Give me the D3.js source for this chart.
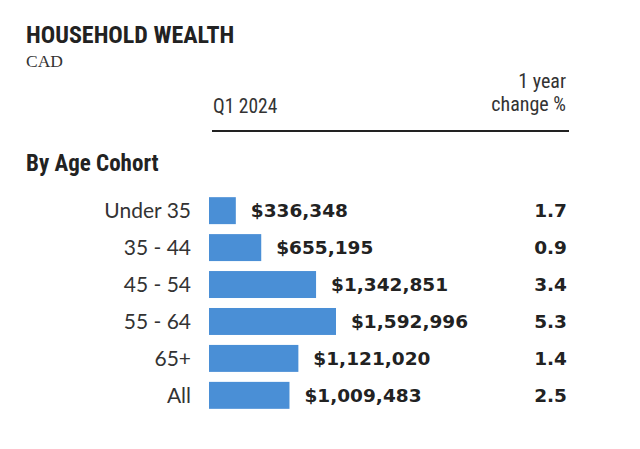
<!DOCTYPE html>
<html><head><meta charset="utf-8">
<script src="https://cdn.jsdelivr.net/npm/d3@7"></script>
<style>body{margin:0;background:#fff}</style>
</head><body>
<script>
const categories = ["Under 35","35 - 44","45 - 54","55 - 64","65+","All"];
const wealth = [336348,655195,1342851,1592996,1121020,1009483];
const change = [1.7,0.9,3.4,5.3,1.4,2.5];

const W=640,H=449;
const svg=d3.select("body").append("svg").attr("width",W).attr("height",H);
const cond="'Liberation Sans Narrow','Roboto Condensed','Arial Narrow',sans-serif";
const sans="Lato,'Open Sans',sans-serif";
const bold="'DejaVu Sans',Verdana,sans-serif";

svg.append("text").attr("x",26).attr("y",43).text("HOUSEHOLD WEALTH")
  .attr("font-family",cond).attr("font-weight","bold").attr("font-size",24).attr("fill","#222");
svg.append("text").attr("x",26).attr("y",67).text("CAD")
  .attr("font-family","'Liberation Serif',serif").attr("font-size",17.5).attr("fill","#333");
svg.append("text").attr("x",213).attr("y",113).text("Q1 2024")
  .attr("font-family",cond).attr("font-size",19.5).attr("fill","#333");
svg.append("text").attr("x",566).attr("y",88).attr("text-anchor","end").text("1 year")
  .attr("font-family",cond).attr("font-size",20).attr("fill","#333");
svg.append("text").attr("x",566).attr("y",111).attr("text-anchor","end").text("change %")
  .attr("font-family",cond).attr("font-size",20).attr("fill","#333");
svg.append("line").attr("x1",212).attr("x2",569).attr("y1",131).attr("y2",131)
  .attr("stroke","#222").attr("stroke-width",2);
svg.append("text").attr("x",26).attr("y",171).text("By Age Cohort")
  .attr("font-family",cond).attr("font-weight","bold").attr("font-size",23).attr("fill","#222");

const x=d3.scaleLinear().domain([0,1592996]).range([209,336]);
const y=d3.scaleBand().domain(categories).range([192,414]).paddingInner(0.27).paddingOuter(0.14);
const fmt=d3.format("$,");

const g=svg.append("g");
const rows=g.selectAll("g.row").data(categories).join("g").attr("class","row");
rows.append("rect").attr("x",x(0)).attr("y",d=>y(d)).attr("height",y.bandwidth())
  .attr("width",(d,i)=>x(wealth[i])-x(0)).attr("fill","#4a8fd6");
rows.append("text").attr("x",191).attr("y",d=>y(d)+y.bandwidth()/2).attr("dy","0.36em")
  .attr("text-anchor","end").text(d=>d).attr("font-family",sans).attr("font-size",21).attr("fill","#333");
rows.append("text").attr("x",(d,i)=>x(wealth[i])+15).attr("y",d=>y(d)+y.bandwidth()/2).attr("dy","0.36em")
  .text((d,i)=>fmt(wealth[i])).attr("font-family",bold).attr("font-weight","bold").attr("font-size",18.5).attr("fill","#222");
rows.append("text").attr("x",567).attr("y",d=>y(d)+y.bandwidth()/2).attr("dy","0.36em")
  .attr("text-anchor","end").text((d,i)=>change[i].toFixed(1)).attr("font-family",bold).attr("font-weight","bold").attr("font-size",18.5).attr("fill","#222");
</script>
</body></html>
